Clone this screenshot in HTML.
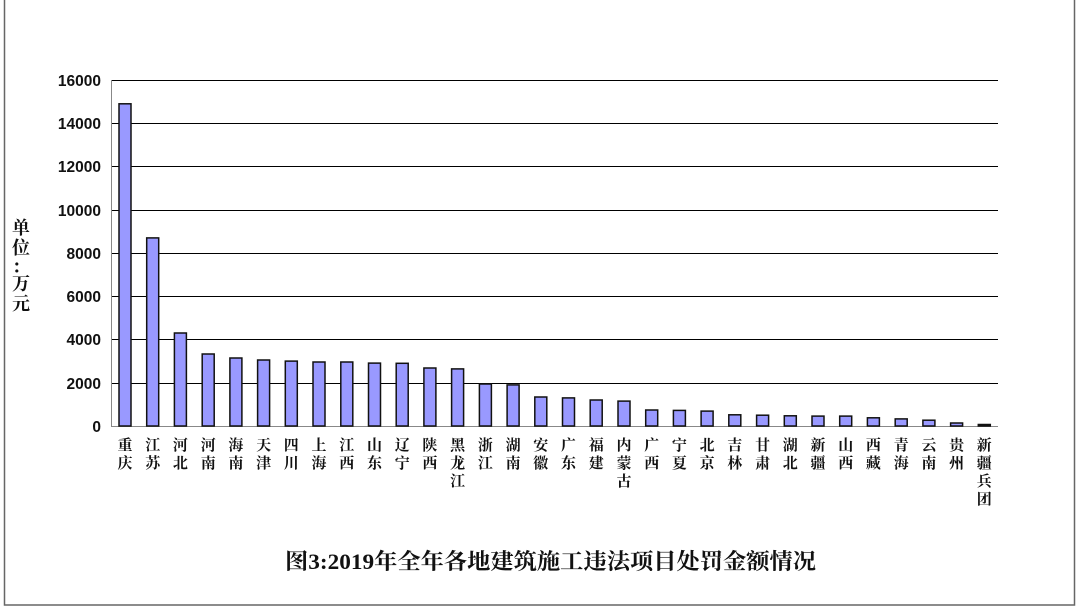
<!DOCTYPE html>
<html><head><meta charset="utf-8"><style>
html,body{margin:0;padding:0;background:#fff;}
svg{display:block;}
</style></head><body>
<svg width="1080" height="610" xmlns="http://www.w3.org/2000/svg">
<rect x="0" y="0" width="1080" height="610" fill="#fff"/>
<rect x="4.5" y="-2" width="1070" height="607" fill="#fff" stroke="#666" stroke-width="1.5"/>
<g stroke="#000" stroke-width="1">
<line x1="111" y1="80.5" x2="998" y2="80.5"/>
<line x1="111" y1="123.5" x2="998" y2="123.5"/>
<line x1="111" y1="166.5" x2="998" y2="166.5"/>
<line x1="111" y1="210.5" x2="998" y2="210.5"/>
<line x1="111" y1="253.5" x2="998" y2="253.5"/>
<line x1="111" y1="296.5" x2="998" y2="296.5"/>
<line x1="111" y1="339.5" x2="998" y2="339.5"/>
<line x1="111" y1="383.5" x2="998" y2="383.5"/>
</g>
<g stroke="#888" stroke-width="1">
<line x1="111.5" y1="80" x2="111.5" y2="426"/>
<line x1="111" y1="426.5" x2="998" y2="426.5"/>
</g>
<g font-family="Liberation Sans, sans-serif" font-weight="bold" font-size="15.5" text-anchor="end" fill="#111">
<text x="101" y="86">16000</text>
<text x="101" y="129">14000</text>
<text x="101" y="172">12000</text>
<text x="101" y="216">10000</text>
<text x="101" y="259">8000</text>
<text x="101" y="302">6000</text>
<text x="101" y="345">4000</text>
<text x="101" y="389">2000</text>
<text x="101" y="432">0</text>
</g>
<g font-family="Liberation Serif, Noto Serif CJK SC, serif" font-weight="bold" font-size="18" text-anchor="middle" fill="#111">
<text x="21" y="234">单</text><text x="21" y="254">位</text><text x="21" y="273">：</text><text x="21" y="290">万</text><text x="21" y="310">元</text>
</g>
<g fill="#9999ff" stroke="#111" stroke-width="1.5">
<rect x="119.0" y="103.8" width="12" height="322.2"/>
<rect x="146.7" y="237.9" width="12" height="188.1"/>
<rect x="174.4" y="333" width="12" height="93"/>
<rect x="202.2" y="354" width="12" height="72"/>
<rect x="229.9" y="358" width="12" height="68"/>
<rect x="257.6" y="360" width="12" height="66"/>
<rect x="285.3" y="361.1" width="12" height="64.9"/>
<rect x="313.0" y="362" width="12" height="64"/>
<rect x="340.8" y="362" width="12" height="64"/>
<rect x="368.5" y="363.1" width="12" height="62.9"/>
<rect x="396.2" y="363.3" width="12" height="62.7"/>
<rect x="423.9" y="368" width="12" height="58"/>
<rect x="451.6" y="368.9" width="12" height="57.1"/>
<rect x="479.4" y="384" width="12" height="42"/>
<rect x="507.1" y="384.9" width="12" height="41.1"/>
<rect x="534.8" y="397" width="12" height="29"/>
<rect x="562.5" y="397.9" width="12" height="28.1"/>
<rect x="590.2" y="400" width="12" height="26"/>
<rect x="618.0" y="401.1" width="12" height="24.9"/>
<rect x="645.7" y="410" width="12" height="16"/>
<rect x="673.4" y="410.4" width="12" height="15.6"/>
<rect x="701.1" y="411.1" width="12" height="14.9"/>
<rect x="728.8" y="414.8" width="12" height="11.2"/>
<rect x="756.6" y="415.2" width="12" height="10.8"/>
<rect x="784.3" y="415.8" width="12" height="10.2"/>
<rect x="812.0" y="416.1" width="12" height="9.9"/>
<rect x="839.7" y="416.1" width="12" height="9.9"/>
<rect x="867.4" y="417.8" width="12" height="8.2"/>
<rect x="895.2" y="418.9" width="12" height="7.1"/>
<rect x="922.9" y="420.2" width="12" height="5.8"/>
<rect x="950.6" y="423" width="12" height="3"/>
<rect x="978.3" y="424.5" width="12" height="1.5"/>
</g>
<g font-family="Liberation Serif, Noto Serif CJK SC, serif" font-weight="bold" font-size="15" text-anchor="middle" fill="#111">
<text x="125" y="450">重</text><text x="125" y="468">庆</text>
<text x="152.7" y="450">江</text><text x="152.7" y="468">苏</text>
<text x="180.4" y="450">河</text><text x="180.4" y="468">北</text>
<text x="208.2" y="450">河</text><text x="208.2" y="468">南</text>
<text x="235.9" y="450">海</text><text x="235.9" y="468">南</text>
<text x="263.6" y="450">天</text><text x="263.6" y="468">津</text>
<text x="291.3" y="450">四</text><text x="291.3" y="468">川</text>
<text x="319" y="450">上</text><text x="319" y="468">海</text>
<text x="346.8" y="450">江</text><text x="346.8" y="468">西</text>
<text x="374.5" y="450">山</text><text x="374.5" y="468">东</text>
<text x="402.2" y="450">辽</text><text x="402.2" y="468">宁</text>
<text x="429.9" y="450">陕</text><text x="429.9" y="468">西</text>
<text x="457.6" y="450">黑</text><text x="457.6" y="468">龙</text><text x="457.6" y="486">江</text>
<text x="485.4" y="450">浙</text><text x="485.4" y="468">江</text>
<text x="513.1" y="450">湖</text><text x="513.1" y="468">南</text>
<text x="540.8" y="450">安</text><text x="540.8" y="468">徽</text>
<text x="568.5" y="450">广</text><text x="568.5" y="468">东</text>
<text x="596.2" y="450">福</text><text x="596.2" y="468">建</text>
<text x="624" y="450">内</text><text x="624" y="468">蒙</text><text x="624" y="486">古</text>
<text x="651.7" y="450">广</text><text x="651.7" y="468">西</text>
<text x="679.4" y="450">宁</text><text x="679.4" y="468">夏</text>
<text x="707.1" y="450">北</text><text x="707.1" y="468">京</text>
<text x="734.8" y="450">吉</text><text x="734.8" y="468">林</text>
<text x="762.6" y="450">甘</text><text x="762.6" y="468">肃</text>
<text x="790.3" y="450">湖</text><text x="790.3" y="468">北</text>
<text x="818" y="450">新</text><text x="818" y="468">疆</text>
<text x="845.7" y="450">山</text><text x="845.7" y="468">西</text>
<text x="873.4" y="450">西</text><text x="873.4" y="468">藏</text>
<text x="901.2" y="450">青</text><text x="901.2" y="468">海</text>
<text x="928.9" y="450">云</text><text x="928.9" y="468">南</text>
<text x="956.6" y="450">贵</text><text x="956.6" y="468">州</text>
<text x="984.3" y="450">新</text><text x="984.3" y="468">疆</text><text x="984.3" y="486">兵</text><text x="984.3" y="504">团</text>
</g>
<text x="285" y="569" textLength="531" lengthAdjust="spacingAndGlyphs" font-family="Liberation Serif, Noto Serif CJK SC, serif" font-weight="bold" font-size="22" fill="#111">图3:2019年全年各地建筑施工违法项目处罚金额情况</text>
</svg>
</body></html>
